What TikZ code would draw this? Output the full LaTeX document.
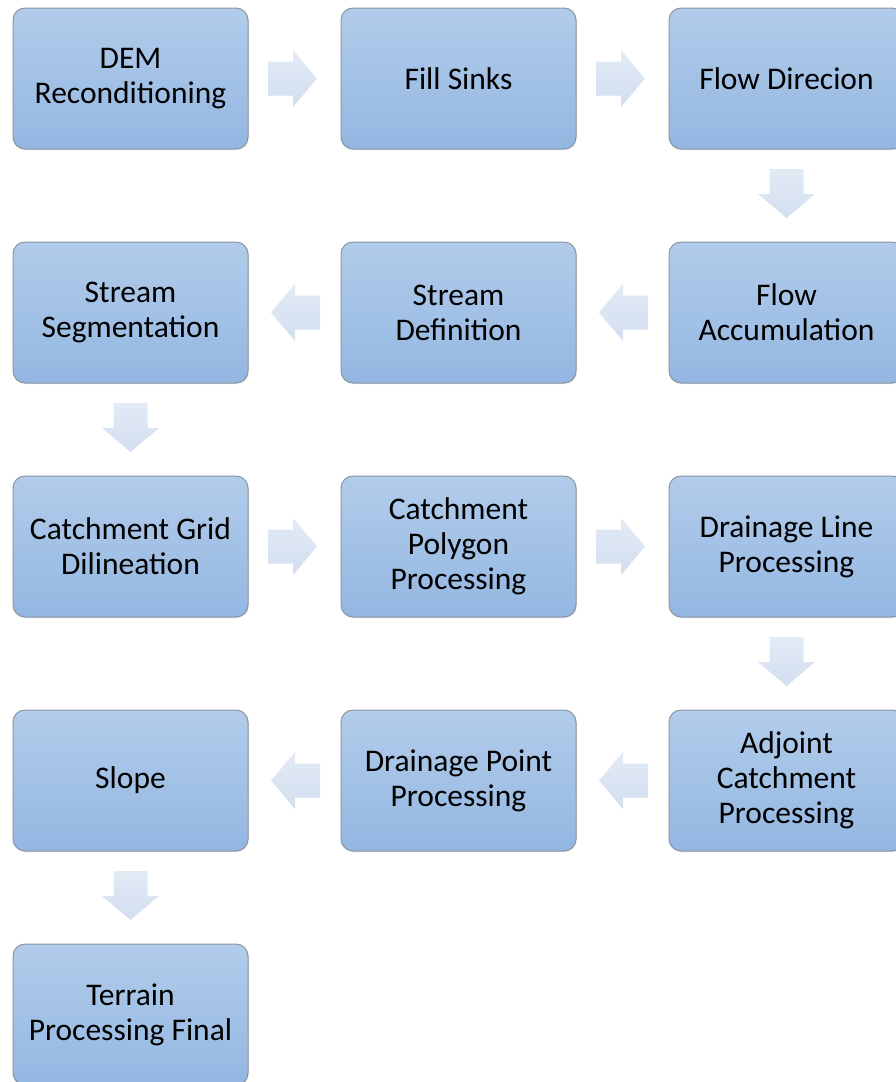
\documentclass[tikz,border=0pt]{standalone}
\usepackage{fontspec}
\setmainfont{Carlito}
\usetikzlibrary{calc,shadows}
\definecolor{boxtop}{HTML}{B2CCEA}
\definecolor{boxbot}{HTML}{93B7E2}
\definecolor{boxline}{HTML}{8A96A4}
\definecolor{arrtop}{HTML}{E2EAF5}
\definecolor{arrbot}{HTML}{D2DEF0}
\begin{document}
\begin{tikzpicture}[x=1pt,y=-1pt,
  box/.style={rounded corners=12pt, draw=boxline, line width=1pt,
    top color=boxtop, bottom color=boxbot,
    drop shadow={opacity=0.2, shadow xshift=1pt, shadow yshift=-1pt},
    minimum width=235pt, minimum height=141pt, inner sep=0pt,
    align=center, font=\fontsize{31.5}{35}\selectfont, text=black},
  arrowfill/.style={top color=arrtop, bottom color=arrbot, draw=none},
  barrow/.pic={\path[arrowfill] (-24.5,-17) -- (0.5,-17) -- (0.5,-28.5) -- (24.5,0) -- (0.5,28.5) -- (0.5,17) -- (-24.5,17) -- cycle;}
]
\useasboundingbox (0,0) rectangle (895,1082);
\node[box] (n1) at (130.5,78.5) {DEM\\Reconditioning};
\node[box] (n2) at (458.5,78.5) {Fill Sinks};
\node[box] (n3) at (786.5,78.5) {Flow Direcion};
\node[box] (n4) at (786.5,312.5) {Flow\\Accumulation};
\node[box] (n5) at (458.5,312.5) {Stream\\Definition};
\node[box] (n6) at (130.5,312.5) {Stream\\Segmentation};
\node[box] (n7) at (130.5,546.5) {Catchment Grid\\Dilineation};
\node[box] (n8) at (458.5,546.5) {Catchment\\Polygon\\Processing};
\node[box] (n9) at (786.5,546.5) {Drainage Line\\Processing};
\node[box] (n10) at (786.5,780.5) {Adjoint\\Catchment\\Processing};
\node[box] (n11) at (458.5,780.5) {Drainage Point\\Processing};
\node[box] (n12) at (130.5,780.5) {Slope};
\node[box] (n13) at (130.5,1014.5) {Terrain\\Processing Final};
% right arrows
\pic at ($(n1.east)!0.5!(n2.west)+(-2,0)$) {barrow};
\pic at ($(n2.east)!0.5!(n3.west)+(-2,0)$) {barrow};
\pic at ($(n7.east)!0.5!(n8.west)+(-2,0)$) {barrow};
\pic at ($(n8.east)!0.5!(n9.west)+(-2,0)$) {barrow};
% down arrows
\pic[rotate=-90] at ($(n3.south)!0.5!(n4.north)+(0,-2)$) {barrow};
\pic[rotate=-90] at ($(n6.south)!0.5!(n7.north)+(0,-2)$) {barrow};
\pic[rotate=-90] at ($(n9.south)!0.5!(n10.north)+(0,-2)$) {barrow};
\pic[rotate=-90] at ($(n12.south)!0.5!(n13.north)+(0,-2)$) {barrow};
% left arrows
\pic[rotate=180] at ($(n4.west)!0.5!(n5.east)+(1,0)$) {barrow};
\pic[rotate=180] at ($(n5.west)!0.5!(n6.east)+(1,0)$) {barrow};
\pic[rotate=180] at ($(n10.west)!0.5!(n11.east)+(1,0)$) {barrow};
\pic[rotate=180] at ($(n11.west)!0.5!(n12.east)+(1,0)$) {barrow};
\end{tikzpicture}
\end{document}
